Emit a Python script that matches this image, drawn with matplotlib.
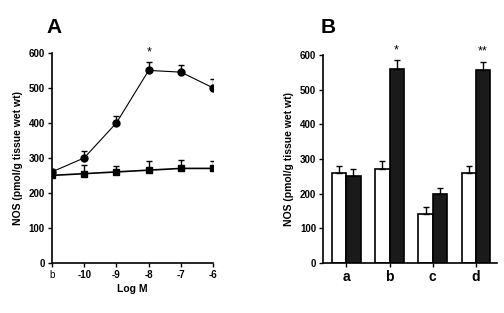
import matplotlib
matplotlib.use("Agg")
import matplotlib.pyplot as plt
import numpy as np

plt.rcParams['font.family'] = ['Liberation Sans', 'DejaVu Sans']

# Panel A data
a_labels = ['b', '-10', '-9', '-8', '-7', '-6']
circ_vals = [260, 300, 400, 550, 545, 500]
circ_err = [8, 20, 20, 25, 20, 25]
sq_vals = [250, 255, 260, 265, 270, 270]
sq_err = [12, 25, 18, 25, 23, 20]

# Panel B data
b_cats = ['a', 'b', 'c', 'd']
white_vals = [260, 270, 140, 260]
white_err = [20, 25, 20, 20]
black_vals = [250, 560, 200, 557]
black_err = [22, 25, 15, 22]

fig = plt.figure(figsize=(5.04, 3.13), dpi=100)

ylabel = 'NOS (pmol/g tissue wet wt)'

# ---- Panel A ----
axA = fig.add_axes([0.103, 0.160, 0.320, 0.671])
x = np.arange(len(a_labels))
axA.errorbar(x, circ_vals, yerr=[np.zeros(len(circ_err)), circ_err], fmt='-o',
             color='black', ms=5, lw=0.8, elinewidth=1.0, capsize=2.5, capthick=1.0)
axA.errorbar(x, sq_vals, yerr=[np.zeros(len(sq_err)), sq_err], fmt='-s',
             color='black', ms=4.5, lw=1.2, elinewidth=1.0, capsize=2.5, capthick=1.0)
axA.set_xlim(0, 5)
axA.set_ylim(0, 600)
axA.set_xticks(x)
axA.set_xticklabels(a_labels)
for i, lab in enumerate(axA.get_xticklabels()):
    if i > 0:
        lab.set_fontweight('bold')
axA.set_yticks(range(0, 601, 100))
axA.set_xlabel('Log M', fontsize=7.5, fontweight='bold', labelpad=3)
axA.set_ylabel(ylabel, fontsize=7.5, fontweight='bold', labelpad=4)
axA.text(3, 583, '*', ha='center', va='bottom', fontsize=9)
fig.text(0.093, 0.895, 'A', fontsize=15, fontweight='bold', ha='left', va='baseline')

# ---- Panel B ----
axB = fig.add_axes([0.641, 0.160, 0.345, 0.664])
xb = np.arange(len(b_cats))
w = 0.33
axB.bar(xb - w/2, white_vals, w, yerr=[np.zeros(4), white_err], color='white',
        edgecolor='black', linewidth=1.2, capsize=2.5,
        error_kw=dict(elinewidth=1.0, capthick=1.0))
axB.bar(xb + w/2, black_vals, w, yerr=[np.zeros(4), black_err], color='#1a1a1a',
        edgecolor='black', linewidth=1.2, capsize=2.5,
        error_kw=dict(elinewidth=1.0, capthick=1.0))
axB.set_xlim(-0.54, 3.49)
axB.set_ylim(0, 600)
axB.set_xticks(xb)
axB.set_xticklabels(b_cats, fontsize=10, fontweight='bold')
axB.set_yticks(range(0, 601, 100))
axB.set_ylabel(ylabel, fontsize=7.5, fontweight='bold', labelpad=4)
axB.text(1 + w/2, 595, '*', ha='center', va='bottom', fontsize=9)
axB.text(3 + w/2, 592, '**', ha='center', va='bottom', fontsize=9)
fig.text(0.637, 0.895, 'B', fontsize=15, fontweight='bold', ha='left', va='baseline')

for ax in (axA, axB):
    ax.spines['top'].set_visible(False)
    ax.spines['right'].set_visible(False)
    ax.spines['left'].set_linewidth(1.2)
    ax.spines['bottom'].set_linewidth(1.2)
    ax.tick_params(axis='both', labelsize=7, width=1.0, length=3, pad=2)
    for lab in ax.get_yticklabels():
        lab.set_fontweight('bold')
axB.tick_params(axis='x', labelsize=10, length=3, pad=2)

fig.savefig('out.png', dpi=100)
